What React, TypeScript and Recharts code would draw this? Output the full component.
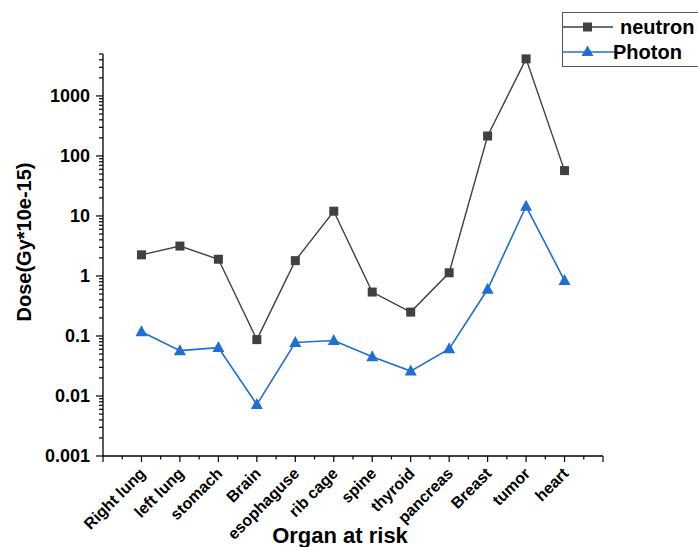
import { LineChart, Line, XAxis, YAxis, Legend } from "recharts";

const organs = [
  "Right lung",
  "left lung",
  "stomach",
  "Brain",
  "esophaguse",
  "rib cage",
  "spine",
  "thyroid",
  "pancreas",
  "Breast",
  "tumor",
  "heart",
];

const neutron = [2.25, 3.15, 1.9, 0.087, 1.8, 12, 0.54, 0.25, 1.13, 215, 4150, 57];
const photon = [0.118, 0.057, 0.064, 0.0072, 0.078, 0.084, 0.045, 0.026, 0.061, 0.6, 14.5, 0.84];

const yMajor = [0.001, 0.01, 0.1, 1, 10, 100, 1000];
const xTicks = [0, 0.5, 1, 1.5, 2, 2.5, 3, 3.5, 4, 4.5, 5, 5.5, 6, 6.5, 7, 7.5, 8, 8.5, 9, 9.5, 10, 10.5, 11, 11.5, 12, 12.5, 13];

// minor log ticks 2..9 within each decade, up to the top of the axis
const yTicks: number[] = [];
yMajor.forEach((d) => {
  yTicks.push(d);
  for (let k = 2; k <= 9; k++) {
    const v = +(d * k).toPrecision(3);
    if (v <= 5000) yTicks.push(v);
  }
});

const data = organs.map((name, i) => ({
  x: i + 1,
  name,
  neutron: neutron[i],
  photon: photon[i],
}));

const FONT = '"Liberation Sans", Arial, sans-serif';
const GRAY = "#404040";
const BLUE = "#1f6fd4";

const isDecade = (v: number) => {
  const l = Math.log10(v);
  return Math.abs(l - Math.round(l)) < 1e-6;
};

function YTick(props: any) {
  const { x, y, payload } = props;
  const v = payload.value;
  const major = isDecade(v);
  return (
    <g>
      <line x1={x} x2={x - (major ? 7 : 4)} y1={y} y2={y} stroke="#000" strokeWidth={1.2} />
      {major && (
        <text
          x={x - 13}
          y={y}
          textAnchor="end"
          dominantBaseline="central"
          fontFamily={FONT}
          fontWeight="bold"
          fontSize={18}
          fill="#000"
        >
          {String(v)}
        </text>
      )}
    </g>
  );
}

function XTick(props: any) {
  const { x, y, payload } = props;
  const v = payload.value;
  const major = Number.isInteger(v);
  const label = major && v >= 1 && v <= organs.length ? organs[v - 1] : null;
  const ax = x + 5;
  const ay = y + 18.5;
  return (
    <g>
      <line x1={x} x2={x} y1={y} y2={y + (major ? 6 : 3.5)} stroke="#000" strokeWidth={1.2} />
      {label && (
        <text
          x={ax}
          y={ay}
          textAnchor="end"
          transform={`rotate(-45 ${ax} ${ay})`}
          fontFamily={FONT}
          fontWeight="bold"
          fontSize={16}
          fill="#000"
        >
          {label}
        </text>
      )}
    </g>
  );
}

function SquareDot(props: any) {
  const { cx, cy } = props;
  if (cx == null || cy == null) return null;
  return <rect x={cx - 4.5} y={cy - 4.5} width={9} height={9} fill={GRAY} />;
}

function TriangleDot(props: any) {
  const { cx, cy } = props;
  if (cx == null || cy == null) return null;
  return (
    <polygon
      points={`${cx},${cy - 6.5} ${cx + 6},${cy + 4.5} ${cx - 6},${cy + 4.5}`}
      fill={BLUE}
    />
  );
}

function LegendBox() {
  const row = (label: string, color: string, shape: "square" | "tri", lineEnd: number) => (
    <div style={{ display: "flex", alignItems: "center", height: 25 }}>
      <svg width={lineEnd} height={20} style={{ flex: "none" }}>
        <line x1={0} x2={lineEnd} y1={10} y2={10} stroke={color} strokeWidth={1.4} />
        {shape === "square" ? (
          <rect x={20} y={5.5} width={9} height={9} fill={color} />
        ) : (
          <polygon points="24.5,3.5 30.5,14 18.5,14" fill={color} />
        )}
      </svg>
      <span
        style={{
          fontFamily: FONT,
          fontWeight: "bold",
          fontSize: 20,
          color: "#000",
          marginLeft: shape === "square" ? 7 : -2,
          lineHeight: "20px",
        }}
      >
        {label}
      </span>
    </div>
  );
  return (
    <div
      style={{
        border: "1px solid #555",
        width: 140,
        height: 55,
        boxSizing: "border-box",
        paddingTop: 1,
        background: "#fff",
      }}
    >
      {row("neutron", GRAY, "square", 50)}
      {row("Photon", BLUE, "tri", 52)}
    </div>
  );
}

export default function App() {
  return (
    <div style={{ position: "absolute", left: 0, top: 0, background: "#fff" }}>
      <LineChart
        width={698}
        height={547}
        data={data}
        margin={{ top: 54, right: 95, bottom: 0, left: 0 }}
      >
        <XAxis
          dataKey="x"
          type="number"
          domain={[0, 13]}
          ticks={xTicks}
          interval={0}
          height={91}
          tickSize={0}
          tickMargin={0}
          tick={<XTick />}
          axisLine={{ stroke: "#000", strokeWidth: 1.3 }}
          label={{
            content: ({ viewBox }: any) => (
              <text
                x={viewBox.x + viewBox.width / 2 - 13}
                y={viewBox.y + 87}
                textAnchor="middle"
                fontFamily={FONT}
                fontWeight="bold"
                fontSize={22}
                fill="#000"
              >
                Organ at risk
              </text>
            ),
          }}
        />
        <YAxis
          type="number"
          scale="log"
          domain={[0.001, 5000]}
          allowDataOverflow
          ticks={yTicks}
          interval={0}
          width={103}
          tickSize={0}
          tickMargin={0}
          tick={<YTick />}
          axisLine={{ stroke: "#000", strokeWidth: 1.3 }}
          label={{
            content: ({ viewBox }: any) => (
              <text
                x={24}
                y={viewBox.y + viewBox.height / 2 - 13}
                textAnchor="middle"
                dominantBaseline="central"
                transform={`rotate(-90 24 ${viewBox.y + viewBox.height / 2 - 13})`}
                fontFamily={FONT}
                fontWeight="bold"
                fontSize={20}
                fill="#000"
              >
                Dose(Gy*10e-15)
              </text>
            ),
          }}
        />
        <Legend
          layout="vertical"
          align="center"
          verticalAlign="middle"
          wrapperStyle={{ left: 562, top: 12, width: 140 }}
          content={() => <LegendBox />}
        />
        <Line
          dataKey="neutron"
          stroke={GRAY}
          strokeWidth={1.4}
          dot={<SquareDot />}
          activeDot={false}
          isAnimationActive={false}
        />
        <Line
          dataKey="photon"
          stroke={BLUE}
          strokeWidth={1.6}
          dot={<TriangleDot />}
          activeDot={false}
          isAnimationActive={false}
        />
      </LineChart>
    </div>
  );
}
